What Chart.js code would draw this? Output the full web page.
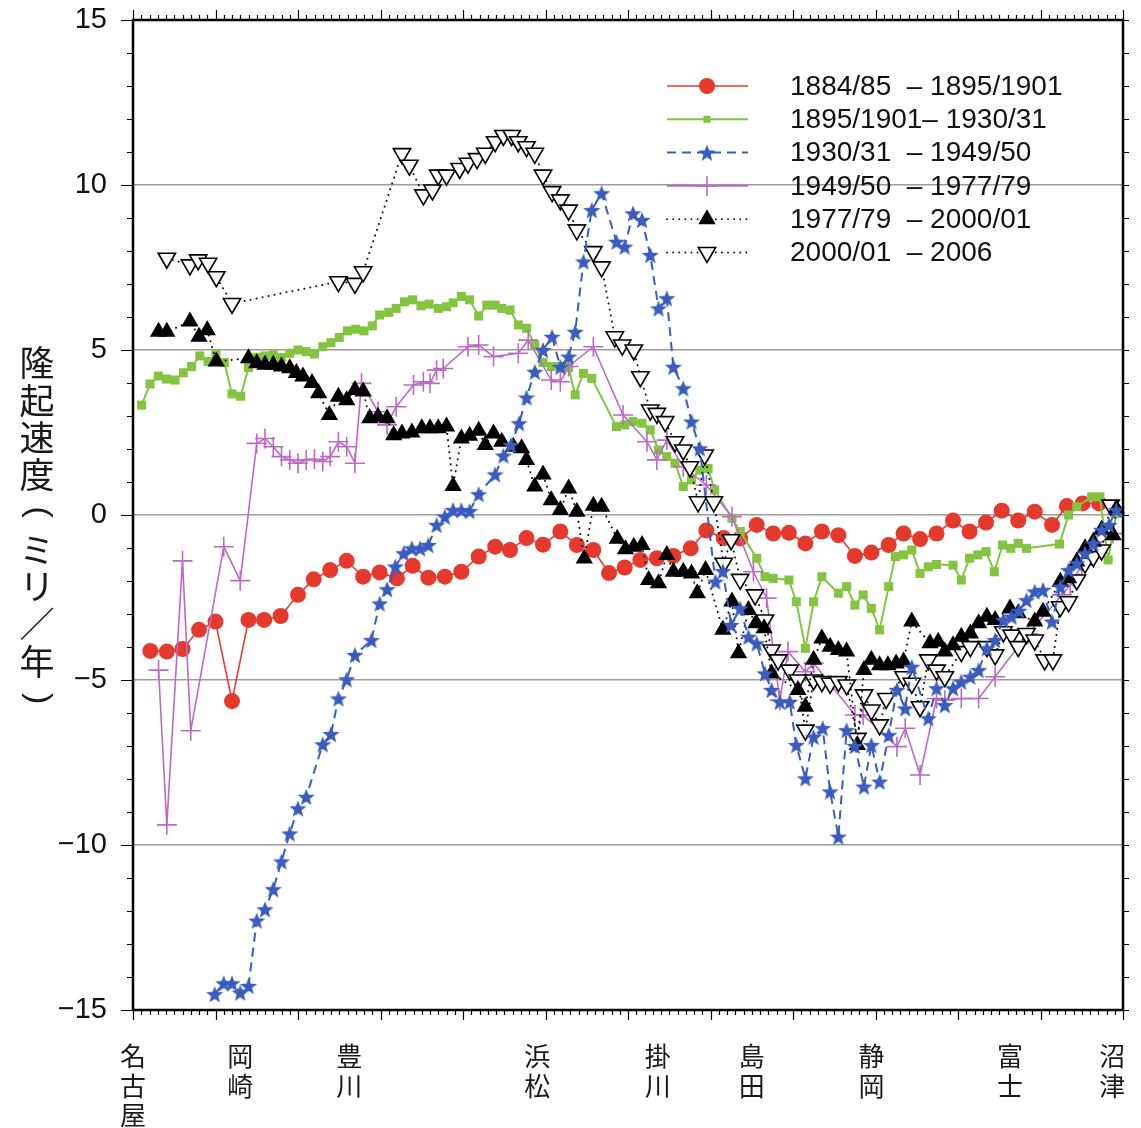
<!DOCTYPE html>
<html>
<head>
<meta charset="utf-8">
<script src="https://cdn.jsdelivr.net/npm/chart.js@4.4.1/dist/chart.umd.min.js"></script>
<style>
  html, body { margin: 0; padding: 0; background: #fff; }
  #wrap { width: 1141px; height: 1128px; }
</style>
</head>
<body>
<div id="wrap"><canvas id="chartCanvas" width="1141" height="1128"></canvas></div>
<script>
// distance along the route (arbitrary km-like units, 0 = Nagoya .. 120 = Numazu)
const cityNames = ['名古屋', '岡崎', '豊川', '浜松', '掛川', '島田', '静岡', '富士', '沼津'];
const cityPos = [0, 13, 26.2, 49, 63.6, 75, 89.5, 106.3, 118.7];

const yTicks = [-15, -10, -5, 0, 5, 10, 15];
const yTitle = ['隆', '起', '速', '度', '(', 'ミ', 'リ', '／', '年', ')'];

const legendLabels = [
    '1884/85  – 1895/1901',
    '1895/1901– 1930/31',
    '1930/31  – 1949/50',
    '1949/50  – 1977/79',
    '1977/79  – 2000/01',
    '2000/01  – 2006'
];

// 1884/85 - 1895/1901
const redX = [2.1, 4.1, 6.0, 8.0, 10.0, 12.0, 14.0, 15.9, 17.9, 20.0, 21.9, 23.9, 25.9, 27.9, 29.9, 32.0, 33.9, 35.8, 37.8, 39.8,
    41.9, 43.9, 45.7, 47.7, 49.7, 51.8, 53.8, 55.8, 57.7, 59.6, 61.5, 63.5, 65.5, 67.6, 69.5, 71.6, 73.6, 75.6, 77.6, 79.5,
    81.5, 83.5, 85.5, 87.5, 89.5, 91.6, 93.4, 95.4, 97.4, 99.4, 101.4, 103.4, 105.3, 107.3, 109.3, 111.4, 113.2, 115.1, 117.1];
const redY = [-4.12, -4.14, -4.06, -3.48, -3.23, -5.64, -3.18, -3.18, -3.06, -2.42, -1.95, -1.67, -1.39, -1.87, -1.74, -1.92, -1.54, -1.9, -1.87, -1.72,
    -1.26, -0.96, -1.06, -0.7, -0.9, -0.5, -0.91, -1.06, -1.76, -1.59, -1.36, -1.31, -1.24, -1.01, -0.47, -0.7, -0.71, -0.3, -0.56, -0.54,
    -0.86, -0.5, -0.61, -1.24, -1.14, -0.91, -0.56, -0.73, -0.56, -0.17, -0.5, -0.23, 0.13, -0.17, 0.1, -0.3, 0.27, 0.35, 0.35];

// 1895/1901 - 1930/31
const greenX = [1.05, 2.06, 3.07, 4.08, 5.1, 6.1, 7.1, 8.1, 9.1, 10.06, 11.07, 12.0, 13.05, 14.0, 15.0, 16.0, 17.0, 18.0, 19.0, 20.0,
    21.0, 22.0, 23.0, 24.0, 25.0, 26.0, 27.0, 28.0, 29.0, 29.9, 31.0, 31.9, 32.9, 33.9, 34.9, 35.9, 37.0, 38.0, 38.8, 39.8,
    40.8, 41.9, 42.9, 43.9, 44.7, 45.7, 46.7, 47.7, 48.7, 49.7, 50.7, 51.8, 52.8, 53.6, 54.6, 55.6, 58.6, 59.6, 60.6, 61.7,
    62.7, 63.7, 64.7, 65.7, 66.7, 67.7, 68.7, 69.7, 70.5, 72.6, 73.6, 75.6, 76.6, 77.6, 79.5, 80.4, 81.5, 82.5, 83.5, 85.5,
    86.5, 87.5, 88.5, 89.5, 90.5, 91.6, 92.4, 93.4, 94.4, 95.4, 96.4, 97.4, 99.4, 100.4, 101.4, 102.4, 103.4, 104.4, 105.4, 106.4,
    107.3, 108.3, 112.3, 113.4, 114.4, 116.2, 117.2, 118.2, 119.2];
const greenY = [3.33, 3.97, 4.21, 4.12, 4.09, 4.31, 4.5, 4.82, 4.65, 4.88, 4.62, 3.67, 3.6, 4.47, 4.78, 4.82, 4.85, 4.77, 4.9, 5.0,
    4.95, 4.88, 5.1, 5.22, 5.38, 5.58, 5.63, 5.58, 5.73, 6.06, 6.14, 6.26, 6.46, 6.52, 6.34, 6.39, 6.26, 6.31, 6.43, 6.62,
    6.52, 6.03, 6.36, 6.36, 6.26, 6.21, 5.76, 5.66, 5.15, 4.62, 4.5, 4.5, 4.47, 3.64, 4.29, 4.14, 2.68, 2.73, 2.83, 2.78,
    2.58, 1.97, 1.77, 1.57, 0.86, 1.06, 1.36, 1.41, 0.76, -0.1, -0.5, -1.31, -1.87, -1.92, -1.97, -2.63, -4.04, -2.63, -1.87, -2.37,
    -2.17, -2.73, -2.42, -2.83, -3.48, -2.17, -1.26, -1.21, -1.06, -1.77, -1.57, -1.5, -1.52, -1.97, -1.31, -1.21, -1.11, -1.72, -0.91, -1.01,
    -0.86, -1.01, -0.88, 0.0, 0.25, 0.55, 0.55, -1.36, 0.05];

// 1930/31 - 1949/50
const blueX = [9.9, 11.0, 12.0, 13.0, 14.0, 15.0, 16.0, 17.0, 18.0, 19.0, 20.0, 21.0, 23.0, 24.0, 24.9, 25.9, 26.9, 28.9, 29.9, 30.8,
    31.8, 32.8, 33.8, 34.8, 35.8, 36.8, 37.8, 38.8, 39.8, 40.8, 41.9, 43.9, 44.9, 45.8, 46.8, 47.7, 48.7, 49.7, 50.8, 51.8,
    52.8, 53.6, 54.6, 55.6, 56.8, 58.6, 59.6, 60.6, 61.7, 62.7, 63.7, 64.7, 65.5, 66.7, 67.7, 68.7, 70.6, 71.5, 72.5, 73.6,
    74.6, 75.6, 76.6, 77.4, 78.4, 79.6, 80.4, 81.5, 82.5, 83.6, 84.5, 85.5, 86.5, 87.5, 88.6, 89.5, 90.5, 91.6, 92.6, 93.6,
    94.4, 96.4, 97.4, 98.4, 99.4, 100.4, 101.5, 102.5, 103.5, 104.5, 105.5, 106.5, 107.4, 108.3, 109.3, 110.3, 111.4, 112.4, 113.4, 114.4,
    115.4, 116.4, 117.4, 118.3, 119.2];
const blueY = [-14.52, -14.19, -14.19, -14.47, -14.27, -12.29, -11.95, -11.34, -10.5, -9.65, -8.89, -8.54, -6.95, -6.64, -5.56, -4.98, -4.24, -3.79, -2.68, -2.25,
    -1.56, -1.16, -1.01, -1.01, -0.91, -0.3, -0.05, 0.15, 0.15, 0.12, 0.63, 1.23, 1.8, 2.12, 2.78, 3.56, 4.34, 5.0, 5.4, 4.49,
    4.8, 5.55, 7.68, 9.24, 9.75, 8.28, 8.13, 9.14, 8.94, 7.88, 6.26, 6.57, 4.49, 3.84, 2.83, 2.02, -2.02, -1.7, -3.33, -2.83,
    -3.69, -3.89, -4.8, -5.3, -5.66, -5.66, -6.97, -7.98, -6.72, -6.46, -8.38, -9.75, -6.52, -7.0, -8.23, -6.97, -8.08, -6.67, -5.3, -5.86,
    -4.6, -6.16, -5.25, -5.76, -5.25, -5.05, -4.9, -4.7, -4.04, -3.79, -3.18, -3.08, -2.9, -2.58, -2.32, -2.27, -3.23, -2.17, -1.67, -1.46,
    -1.16, -0.86, -0.45, -0.3, 0.15];

// 1949/50 - 1977/79
const purpleX = [3.1, 4.1, 6.0, 7.0, 11.0, 13.0, 15.0, 16.0, 17.0, 18.0, 19.0, 20.0, 21.0, 22.0, 23.0, 23.9, 24.9, 25.9, 26.9, 27.7,
    29.7, 30.8, 31.9, 34.0, 35.2, 36.0, 36.8, 37.6, 40.6, 41.9, 43.7, 46.7, 47.9, 50.7, 51.8, 52.8, 55.8, 59.4, 62.3, 63.5,
    64.7, 66.7, 69.5, 72.6, 75.2, 76.8, 78.4, 79.4, 81.5, 82.5, 87.5, 88.5, 92.6, 93.6, 95.4, 97.4, 98.4, 100.4, 102.5, 104.5,
    108.5, 112.6, 113.6, 115.0, 116.0, 118.8];
const purpleY = [-4.7, -9.39, -1.39, -6.54, -0.96, -1.99, 2.17, 2.32, 2.07, 1.77, 1.67, 1.57, 1.67, 1.69, 1.62, 1.77, 2.22, 2.07, 1.57, 3.99,
    3.13, 2.73, 3.28, 3.94, 4.04, 3.99, 4.39, 4.44, 5.1, 5.15, 4.8, 4.9, 5.3, 4.09, 4.04, 4.5, 5.1, 3.03, 2.22, 1.67,
    2.27, 1.46, 0.91, -0.05, -1.72, -2.52, -5.61, -4.14, -4.75, -4.49, -6.06, -6.06, -7.02, -6.46, -7.88, -5.56, -5.61, -5.56, -5.56, -4.9,
    -3.6, -2.42, -2.12, -1.52, -1.11, -0.56];

// 1977/79 - 2000/01
const blackX = [3.1, 4.1, 6.9, 8.0, 9.0, 10.1, 14.0, 15.0, 16.0, 17.0, 18.0, 19.0, 19.8, 20.6, 21.7, 22.5, 23.8, 24.9, 25.9, 26.9,
    27.9, 28.7, 29.7, 30.8, 31.6, 32.6, 33.8, 35.0, 36.0, 37.0, 38.0, 38.8, 39.8, 40.8, 41.9, 42.7, 43.7, 44.7, 46.1, 47.1,
    47.7, 48.7, 49.7, 50.7, 51.8, 52.8, 53.8, 54.7, 55.8, 56.8, 58.7, 59.7, 60.7, 61.7, 62.5, 63.7, 64.7, 65.5, 66.7, 67.7,
    68.4, 69.4, 71.5, 72.6, 73.4, 74.6, 75.5, 76.5, 77.4, 80.6, 81.5, 82.5, 83.5, 84.5, 85.5, 86.5, 87.8, 88.6, 89.5, 90.5,
    91.5, 92.5, 93.4, 94.4, 96.6, 97.6, 98.4, 99.4, 100.4, 101.5, 102.5, 103.5, 104.5, 106.3, 107.3, 109.3, 110.3, 112.4, 113.4, 114.4,
    115.4, 116.4, 117.4, 118.8, 119.2];
const blackY = [5.55, 5.55, 5.86, 5.4, 5.6, 4.65, 4.75, 4.6, 4.55, 4.55, 4.5, 4.45, 4.3, 4.2, 4.0, 3.69, 3.03, 3.58, 3.48, 3.79,
    3.74, 2.93, 2.98, 2.93, 2.42, 2.47, 2.5, 2.63, 2.63, 2.63, 2.68, 0.88, 2.32, 2.4, 2.55, 2.12, 2.47, 2.22, 2.07, 2.02,
    1.67, 0.86, 1.23, 0.45, 0.15, 0.8, 0.1, -1.32, 0.28, 0.25, -0.72, -1.04, -0.96, -0.91, -1.97, -2.07, -1.21, -1.72, -1.72, -1.77,
    -2.37, -1.67, -3.48, -2.62, -4.19, -2.88, -3.28, -3.43, -4.8, -5.3, -5.81, -4.39, -3.74, -3.99, -4.09, -4.14, -6.97, -4.7, -4.39, -4.55,
    -4.55, -4.5, -4.44, -3.23, -3.89, -3.84, -4.14, -3.95, -3.69, -3.59, -3.28, -3.08, -3.18, -2.83, -2.98, -3.23, -2.93, -2.02, -1.92, -1.41,
    -1.01, -0.81, -0.45, -0.61, 0.2];

// 2000/01 - 2006
const openX = [4.1, 6.9, 7.9, 9.1, 10.1, 12.0, 24.9, 26.9, 27.9, 32.6, 33.5, 35.2, 36.3, 37.0, 38.0, 39.6, 40.6, 41.7, 42.7, 43.9,
    44.9, 45.9, 46.7, 47.7, 48.7, 49.7, 50.8, 51.8, 52.8, 53.8, 55.8, 56.8, 58.4, 59.3, 60.7, 61.5, 62.7, 63.5, 64.5, 65.7,
    66.7, 67.5, 68.5, 69.3, 70.4, 71.6, 72.5, 73.6, 75.4, 76.6, 77.4, 78.2, 79.6, 80.6, 81.5, 82.5, 83.5, 84.5, 85.5, 86.5,
    87.8, 88.6, 89.5, 90.5, 91.3, 93.4, 94.4, 95.4, 96.4, 97.4, 98.4, 100.4, 101.5, 103.5, 104.5, 105.5, 106.5, 107.3, 108.3, 109.3,
    110.5, 111.5, 112.4, 113.4, 114.4, 115.4, 116.4, 117.4, 118.5];
const openY = [7.78, 7.58, 7.73, 7.63, 7.22, 6.41, 7.07, 7.02, 7.37, 10.95, 10.6, 9.7, 9.85, 10.3, 10.3, 10.5, 10.66, 10.8, 10.96, 11.31,
    11.5, 11.5, 11.31, 11.16, 10.96, 10.3, 9.8, 9.55, 9.24, 8.64, 7.98, 7.52, 5.4, 5.15, 5.0, 4.19, 3.18, 3.08, 2.83, 2.22,
    1.97, 1.46, 0.4, 1.82, 0.4, -1.46, -0.75, -1.95, -2.42, -3.18, -4.09, -4.39, -4.7, -5.0, -6.52, -5.0, -5.05, -5.1, -5.05, -5.15,
    -6.77, -5.45, -5.91, -6.36, -5.56, -4.9, -5.1, -5.81, -4.39, -4.7, -4.9, -4.14, -3.99, -3.99, -4.24, -3.54, -3.64, -3.99, -3.59, -3.79,
    -4.39, -4.39, -2.78, -2.63, -1.97, -1.46, -1.26, -1.06, 0.3];

const RED = '#e5392e';
const GREEN = '#84c441';
const BLUE = '#3a5cbf';
const PURPLE = '#bb6ac8';

// filled five-point star used as a point style
function makeStar(r, color) {
    const c = document.createElement('canvas');
    c.width = c.height = Math.ceil(r * 2 + 2);
    const g = c.getContext('2d');
    g.translate(c.width / 2, c.height / 2 + r * 0.1);
    g.beginPath();
    for (let i = 0; i < 10; i++) {
        const rr = i % 2 ? r * 0.42 : r;
        const a = -Math.PI / 2 + i * Math.PI / 5;
        g.lineTo(rr * Math.cos(a), rr * Math.sin(a));
    }
    g.closePath();
    g.fillStyle = color;
    g.fill();
    return c;
}
const starImg = makeStar(9, BLUE);

function pts(xs, ys) {
    return xs.map((v, i) => ({ x: v, y: ys[i] }));
}

const datasets = [
    {
        label: legendLabels[0], data: pts(redX, redY), order: 6,
        borderColor: RED, borderWidth: 1.6, backgroundColor: RED,
        pointStyle: 'circle', pointRadius: 8, pointBorderWidth: 0, pointBackgroundColor: RED
    },
    {
        label: legendLabels[1], data: pts(greenX, greenY), order: 5,
        borderColor: GREEN, borderWidth: 2, backgroundColor: GREEN,
        pointStyle: 'rect', pointRadius: 6.4, pointBorderWidth: 0, pointBackgroundColor: GREEN
    },
    {
        label: legendLabels[2], data: pts(blueX, blueY), order: 1,
        borderColor: BLUE, borderWidth: 2, borderDash: [9, 6], backgroundColor: BLUE,
        pointStyle: starImg, pointRadius: 9
    },
    {
        label: legendLabels[3], data: pts(purpleX, purpleY), order: 4,
        borderColor: PURPLE, borderWidth: 1.6, backgroundColor: PURPLE,
        pointStyle: 'cross', pointRadius: 10, pointBorderWidth: 1.6, pointBorderColor: PURPLE
    },
    {
        label: legendLabels[4], data: pts(blackX, blackY), order: 2,
        borderColor: '#111', borderWidth: 2, borderDash: [0.1, 6], borderCapStyle: 'round', backgroundColor: '#000',
        pointStyle: 'triangle', pointRadius: 10, pointBorderWidth: 0, pointBackgroundColor: '#000'
    },
    {
        label: legendLabels[5], data: pts(openX, openY), order: 3,
        borderColor: '#111', borderWidth: 2, borderDash: [0.1, 6], borderCapStyle: 'round', backgroundColor: '#fff',
        pointStyle: 'triangle', pointRotation: 180, pointRadius: 10, pointBorderWidth: 1.6,
        pointBorderColor: '#000', pointBackgroundColor: '#fff'
    }
];
datasets.forEach(d => { d.tension = 0; d.clip = false; d.fill = false; d.pointHoverRadius = d.pointRadius; });

// frame and tick marks on all four sides
const framePlugin = {
    id: 'frame',
    afterDatasetsDraw(chart) {
        const { ctx, chartArea: a, scales: { x, y } } = chart;
        ctx.save();
        ctx.strokeStyle = '#000';
        ctx.lineWidth = 1.2;
        ctx.beginPath();
        for (let v = 0; v <= 120; v++) {
            const px = Math.round(x.getPixelForValue(v)) + 0.5;
            const len = v % 10 === 0 ? 10 : 5;
            ctx.moveTo(px, a.bottom); ctx.lineTo(px, a.bottom + len);
            ctx.moveTo(px, a.top); ctx.lineTo(px, a.top - len);
        }
        for (let v = -15; v <= 15; v++) {
            const py = Math.round(y.getPixelForValue(v)) + 0.5;
            const len = v % 5 === 0 ? 12 : 6;
            ctx.moveTo(a.left, py); ctx.lineTo(a.left - len, py);
            ctx.moveTo(a.right, py); ctx.lineTo(a.right + 6, py);
        }
        ctx.stroke();
        ctx.lineWidth = 2.5;
        ctx.strokeRect(a.left, a.top, a.right - a.left, a.bottom - a.top);
        ctx.restore();
    }
};

// legend inside the plot, upper right
const legendPlugin = {
    id: 'insideLegend',
    afterDatasetsDraw(chart) {
        const { ctx } = chart;
        const x0 = 667, x1 = 748, xm = 707, xt = 790, top = 86, step = 33.3;
        ctx.save();
        chart.data.datasets.forEach((ds, i) => {
            const yy = top + i * step;
            ctx.strokeStyle = ds.borderColor;
            ctx.lineWidth = ds.borderDash && ds.borderDash[0] < 1 ? 1.8 : ds.borderWidth;
            ctx.lineCap = ds.borderCapStyle || 'butt';
            ctx.setLineDash(ds.borderDash || []);
            ctx.beginPath();
            ctx.moveTo(x0, yy);
            ctx.lineTo(x1, yy);
            ctx.stroke();
            ctx.setLineDash([]);
            ctx.lineCap = 'butt';
            ctx.fillStyle = ds.pointBackgroundColor || ds.backgroundColor;
            ctx.strokeStyle = ds.pointBorderColor || ds.borderColor;
            ctx.lineWidth = ds.pointBorderWidth || 0;
            Chart.helpers.drawPoint(ctx, {
                pointStyle: ds.pointStyle,
                radius: i === 1 ? 5 : ds.pointRadius,
                rotation: ds.pointRotation || 0,
                borderWidth: ds.pointBorderWidth || 0
            }, xm, yy);
            ctx.fillStyle = '#111';
            ctx.font = '28px "Liberation Sans", Arial, sans-serif';
            ctx.textAlign = 'left';
            ctx.textBaseline = 'middle';
            ctx.fillText(ds.label, xt, yy + 1);
        });
        ctx.restore();
    }
};

// vertical (tategaki) y axis title; brackets are turned a quarter turn for vertical writing
const yTitlePlugin = {
    id: 'yTitle',
    afterDraw(chart) {
        const { ctx } = chart;
        ctx.save();
        ctx.fillStyle = '#1a1a1a';
        ctx.textAlign = 'center';
        ctx.textBaseline = 'middle';
        yTitle.forEach((ch, i) => {
            const cy = 363 + i * 37.3;
            if (ch === '(' || ch === ')') {
                ctx.save();
                ctx.font = '300 34px "Liberation Sans", Arial, sans-serif';
                ctx.translate(38, cy);
                ctx.rotate(Math.PI / 2);
                ctx.fillText(ch, 0, 0);
                ctx.restore();
            } else {
                ctx.font = '35px "Noto Sans CJK JP", sans-serif';
                ctx.fillText(ch, 37, cy);
            }
        });
        ctx.restore();
    }
};

const ctx = document.getElementById('chartCanvas').getContext('2d');
window.myChart = new Chart(ctx, {
    type: 'line',
    data: { datasets: datasets },
    options: {
        responsive: false,
        maintainAspectRatio: false,
        animation: false,
        events: [],
        layout: { padding: { left: 0, right: 18, top: 20, bottom: 0 } },
        plugins: { legend: { display: false }, tooltip: { enabled: false } },
        scales: {
            x: {
                type: 'linear',
                min: 0,
                max: 120,
                position: 'bottom',
                grid: { display: false, drawTicks: false },
                border: { display: false },
                afterBuildTicks: scale => { scale.ticks = cityPos.map(v => ({ value: v })); },
                afterFit: scale => { scale.height = 118; scale.paddingLeft = 0; scale.paddingRight = 0; },
                ticks: {
                    autoSkip: false,
                    maxRotation: 0,
                    minRotation: 0,
                    padding: 32,
                    color: '#1a1a1a',
                    font: { family: '"Noto Sans CJK JP", sans-serif', size: 26, lineHeight: 1.12 },
                    callback: (value, index) => cityNames[index].split('')
                }
            },
            y: {
                type: 'linear',
                min: -15,
                max: 15,
                position: 'left',
                border: { display: false },
                grid: {
                    drawTicks: false,
                    lineWidth: 1.5,
                    color: c => (Math.abs(c.tick.value) === 15 ? 'rgba(0,0,0,0)' : '#9c9c9c')
                },
                afterBuildTicks: scale => { scale.ticks = yTicks.map(v => ({ value: v })); },
                afterFit: scale => { scale.width = 133; scale.paddingTop = 0; scale.paddingBottom = 0; },
                ticks: {
                    padding: 26,
                    color: '#111',
                    font: { family: '"Liberation Sans", Arial, sans-serif', size: 29 },
                    callback: v => (v < 0 ? '\u2212' + Math.abs(v) : String(v))
                }
            }
        }
    },
    plugins: [framePlugin, legendPlugin, yTitlePlugin]
});
</script>
</body>
</html>
